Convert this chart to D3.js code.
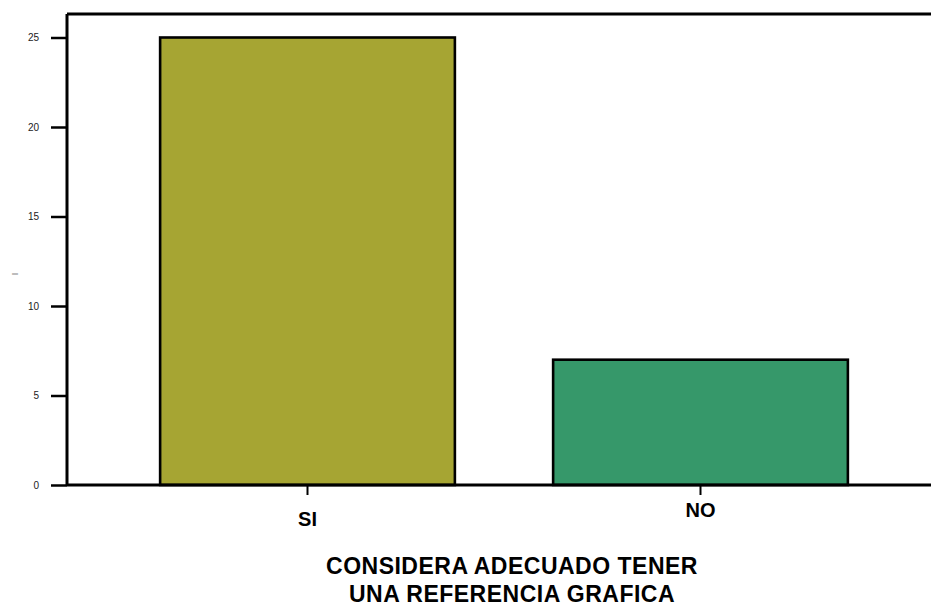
<!DOCTYPE html>
<html>
<head>
<meta charset="utf-8">
<script src="https://cdn.jsdelivr.net/npm/d3@7"></script>
<style>
  html, body { margin: 0; padding: 0; background: #fff; }
  svg { display: block; font-family: "Liberation Sans", Arial, sans-serif; }
</style>
</head>
<body>
<svg id="chart" width="931" height="607"></svg>
<script>
const categories = ["SI", "NO"];
const values = [25, 7];
const barColors = ["#a6a533", "#36986a"];
const yTicks = [0, 5, 10, 15, 20, 25];
const yAxisLabel = "I";
const titleLines = ["CONSIDERA ADECUADO TENER", "UNA REFERENCIA GRAFICA"];
const labelOffsets = [9, 0]; // vertical quirk in reference

(function () {
const svg = d3.select("#chart");
const mLeft = 67, mRight = 931, mTop = 14, mBottom = 485;

const x = d3.scaleBand().domain(categories).range([111, 897])
  .paddingInner(0.25).paddingOuter(0.125);
const y = d3.scaleLinear().domain([0, 25]).range([mBottom, 37.5]);

// bars
svg.append("g").selectAll("rect").data(categories).join("rect")
  .attr("x", d => x(d))
  .attr("y", (d, i) => y(values[i]))
  .attr("width", x.bandwidth())
  .attr("height", (d, i) => y(0) - y(values[i]))
  .attr("fill", (d, i) => barColors[i])
  .attr("stroke", "#000")
  .attr("stroke-width", 2.6);

// top border
svg.append("line").attr("x1", mLeft).attr("x2", mRight).attr("y1", mTop).attr("y2", mTop)
  .attr("stroke", "#000").attr("stroke-width", 2.8);

// y axis
const yAxis = svg.append("g").attr("transform", `translate(${mLeft},0)`)
  .call(d3.axisLeft(y).tickValues(yTicks).tickSize(16).tickPadding(12).tickSizeOuter(0));
yAxis.select(".domain").attr("d", `M0,${mTop}V${mBottom}`).attr("stroke-width", 3);
yAxis.selectAll(".tick line").attr("stroke-width", 2.5);
yAxis.selectAll(".tick text").attr("font-size", 10).attr("fill", "#222")
  .attr("font-family", "Liberation Sans, Arial, sans-serif");

// x axis
const xAxis = svg.append("g").attr("transform", `translate(0,${mBottom})`)
  .call(d3.axisBottom(x).tickSize(10).tickPadding(8).tickSizeOuter(0));
xAxis.select(".domain").attr("d", `M${mLeft},0H${mRight}`).attr("stroke-width", 3.2);
xAxis.selectAll(".tick line").attr("stroke-width", 2);
xAxis.selectAll(".tick text")
  .attr("font-size", 20).attr("font-weight", "bold").attr("fill", "#000")
  .attr("font-family", "Liberation Sans, Arial, sans-serif")
  .attr("dy", (d, i) => (0.71 * 20 + labelOffsets[i]) + "px");

// y axis label (tiny)
svg.append("text").attr("transform", "translate(18,274) rotate(-90)")
  .attr("text-anchor", "middle").attr("font-size", 9).attr("fill", "#666")
  .text(yAxisLabel);

// x title
svg.append("g").selectAll("text").data(titleLines).join("text")
  .attr("x", 512).attr("y", (d, i) => 574 + i * 28)
  .attr("text-anchor", "middle").attr("font-size", 23).attr("font-weight", "bold")
  .attr("letter-spacing", "0.5px")
  .attr("fill", "#000")
  .text(d => d);
})();
</script>
</body>
</html>
